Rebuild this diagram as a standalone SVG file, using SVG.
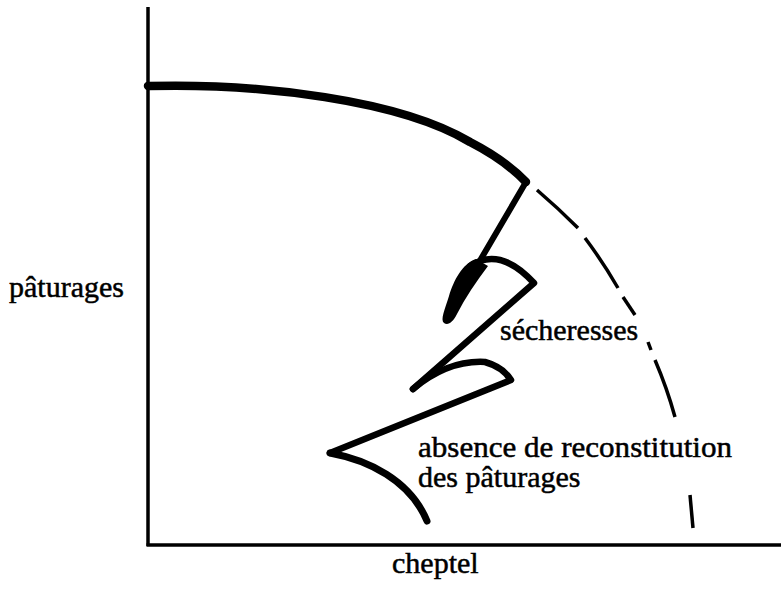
<svg xmlns="http://www.w3.org/2000/svg" width="781" height="592" viewBox="0 0 781 592">
<style>
.t{font-family:"Liberation Serif","Times New Roman",serif;font-size:30px;fill:#000;stroke:#000;stroke-width:0.5}
.ax{stroke:#000;stroke-width:3.5;fill:none}
.c{stroke:#000;fill:none;stroke-linecap:round;stroke-linejoin:round}
.d{stroke:#000;stroke-width:3.5;fill:none;stroke-linecap:butt}
</style>
<rect width="781" height="592" fill="#fff"/>
<g id="axes">
<line class="ax" x1="148" y1="7" x2="148" y2="546"/>
<line class="ax" x1="146.5" y1="545" x2="781" y2="545"/>
</g>
<g id="connectors">
<path class="c" stroke-width="8.5" d="M148,86 C260,83 400,100 470,142 Q505,160 526,182"/>
<path class="c" stroke-width="6" d="M526,182 L478,264"/>
<path fill="#000" d="M476,259 C462,264 454,280 449,296 C445,309 440,320 444,323 C448,326 453,322 457,314 C465,298 476,282 488,266 Z"/>
<path class="c" stroke-width="6.5" d="M470,266 Q500,246 534,283 L413,389"/>
<path class="c" stroke-width="6.5" d="M413,389 Q448,360 485,362 Q503,367 511,380 L330,453"/>
<path class="c" stroke-width="7" d="M330,453 C368,460 410,480 427,521"/>
<path class="d" d="M537,190 Q558,208 578,228"/>
<path class="d" d="M585,238 Q603,262 618,288"/>
<path class="d" d="M623,297 L635,315"/>
<path class="d" d="M648,342 L651,350"/>
<path class="d" d="M655,360 Q667,388 675,417"/>
<path class="d" d="M690,495 L693,528"/>
</g>
<g id="labels">
<text class="t" x="9" y="297">pâturages</text>
<text class="t" x="392" y="573">cheptel</text>
<text class="t" x="500" y="340">sécheresses</text>
<text class="t" x="418" y="457" textLength="314" lengthAdjust="spacingAndGlyphs">absence de reconstitution</text>
<text class="t" x="418" y="487">des pâturages</text>
</g>
</svg>
